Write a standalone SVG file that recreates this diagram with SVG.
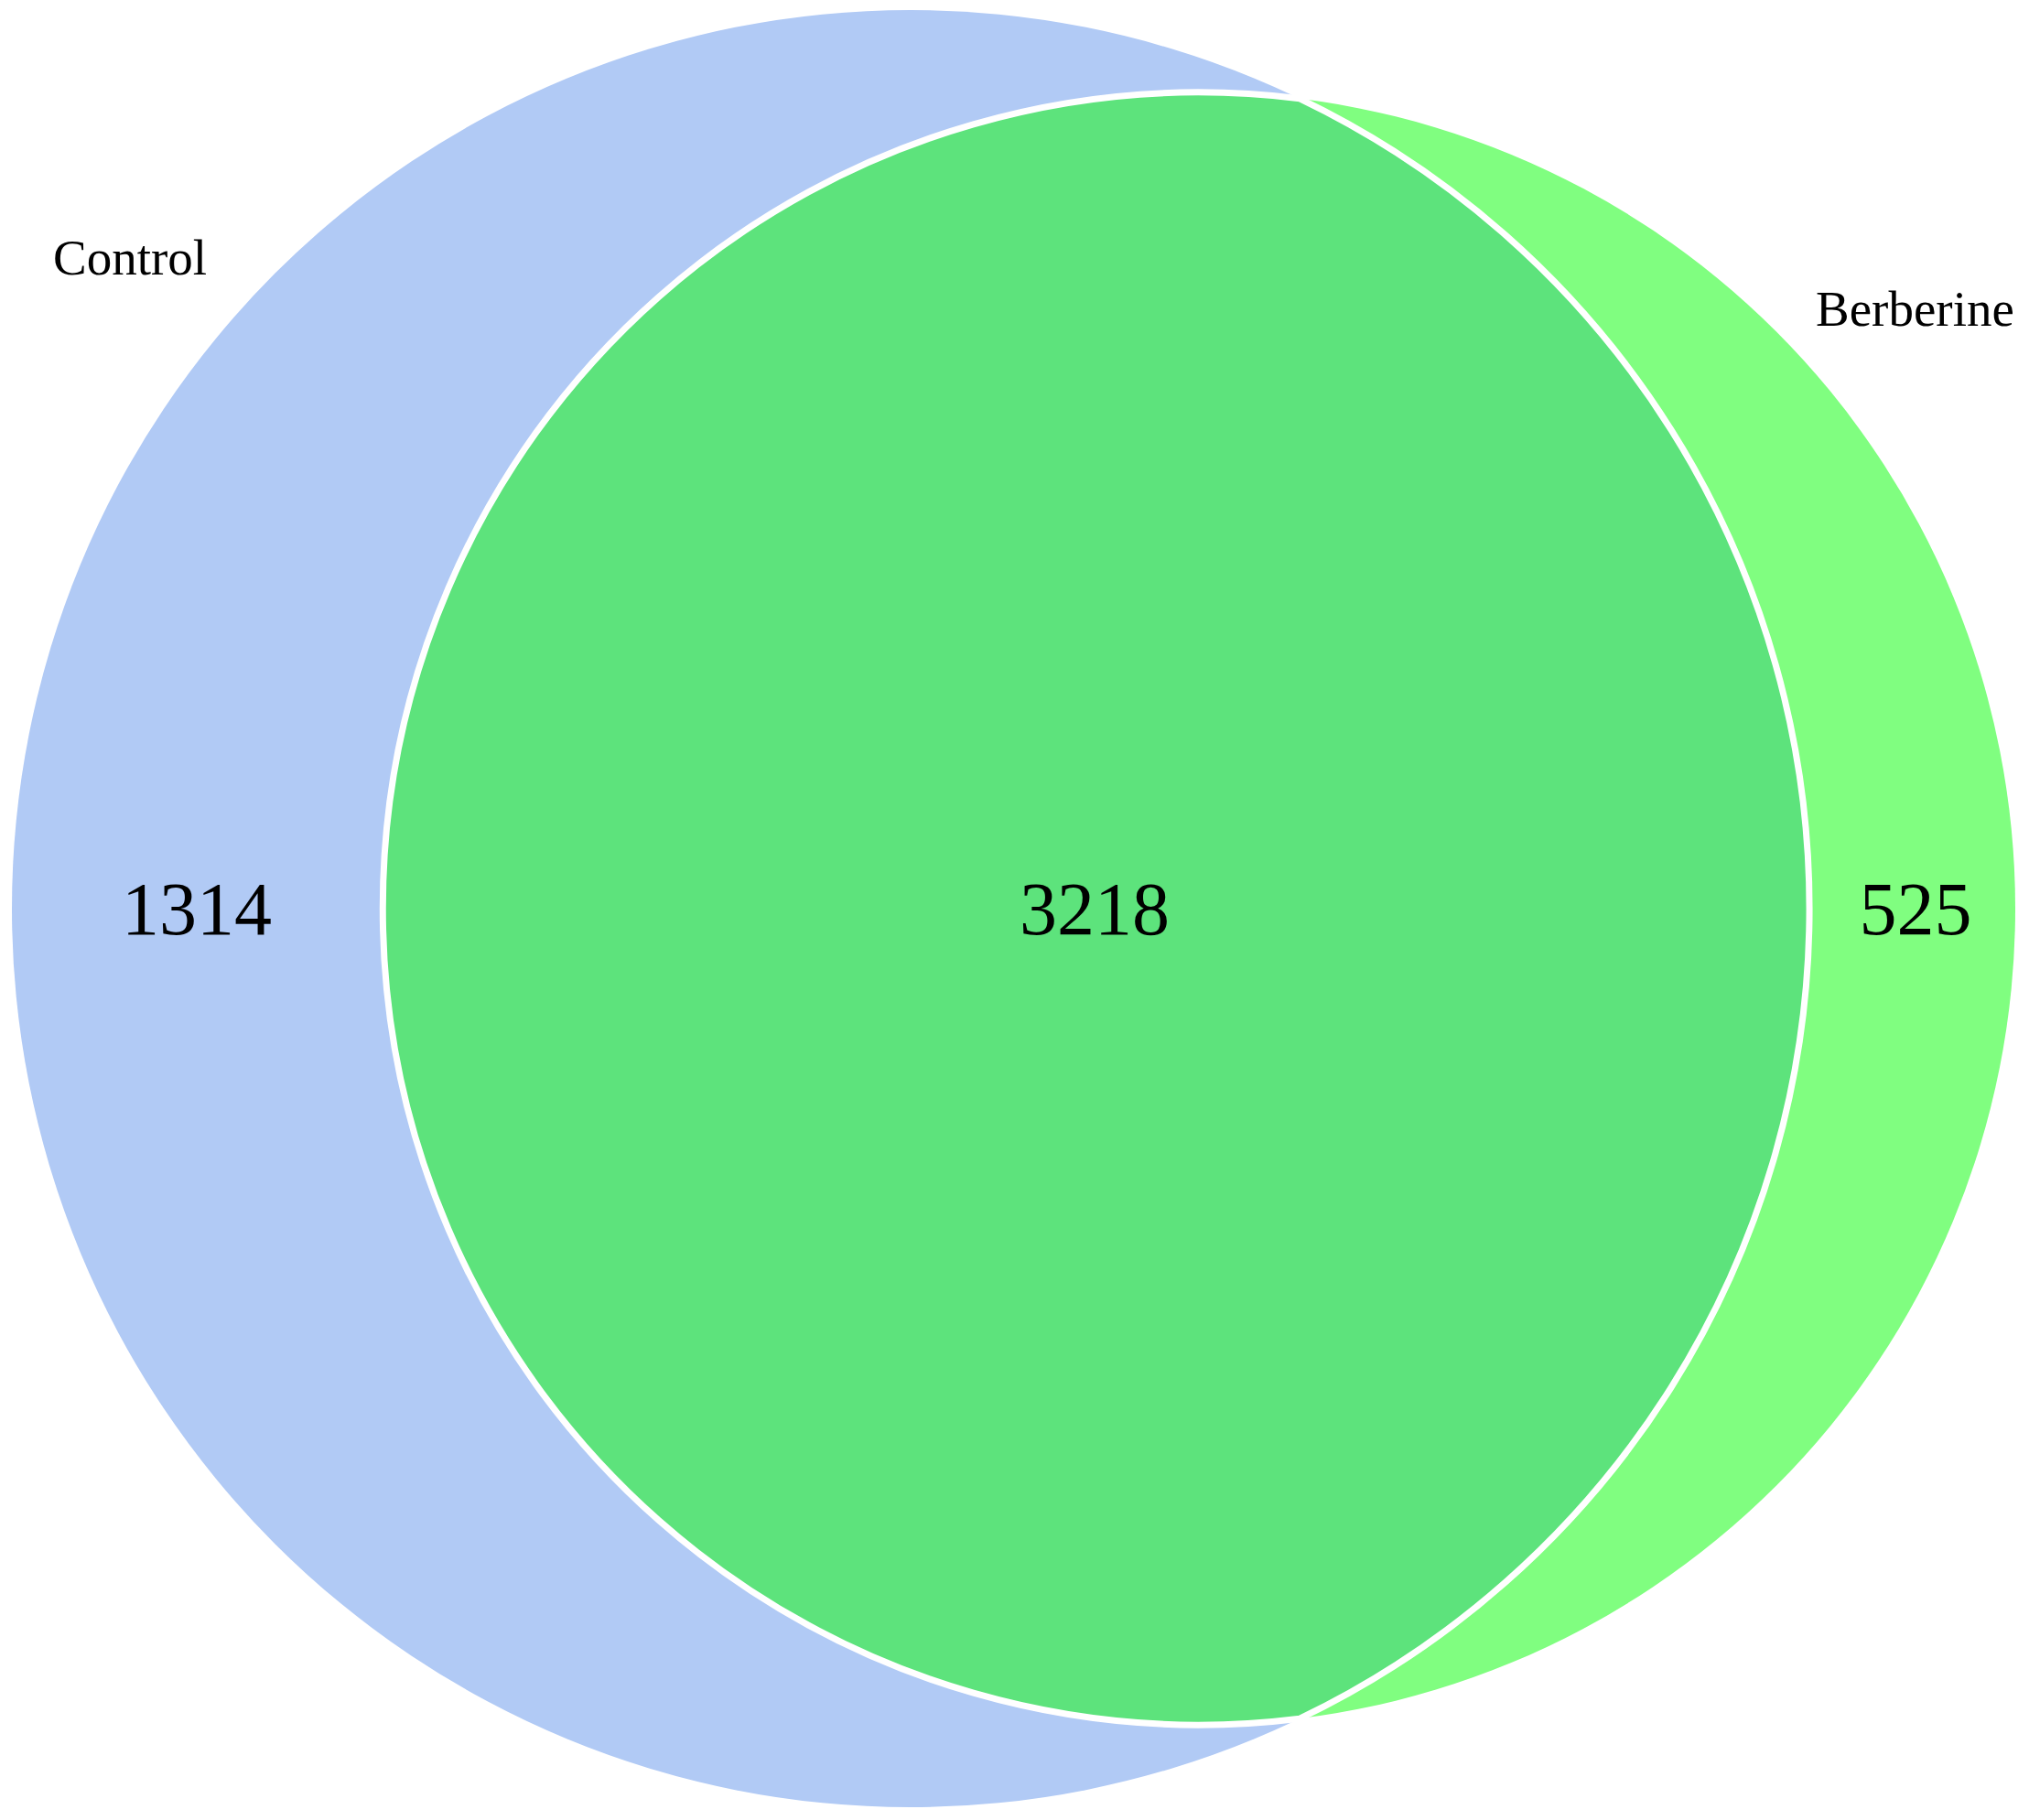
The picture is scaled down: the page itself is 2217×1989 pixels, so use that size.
<svg xmlns="http://www.w3.org/2000/svg" width="2217" height="1989" viewBox="0 0 2217 1989">
<style>
.lbl{font-family:"Liberation Serif","Times New Roman",serif;fill:#000}
.name{font-size:55px}
.num{font-size:82px;text-anchor:middle}
</style>
<rect x="0" y="0" width="2217" height="1989" fill="#fff"/>
<g id="control">
<circle cx="995" cy="993" r="982" fill="#B1CAF5"/>
<text class="lbl name" x="58" y="300">Control</text>
<text class="lbl num" x="215" y="1021">1314</text>
</g>
<g id="berberine">
<circle cx="1310" cy="993" r="892" fill="#80FE80"/>
<text class="lbl name" x="1984" y="356">Berberine</text>
<text class="lbl num" x="2093" y="1021">525</text>
</g>
<g id="overlap">
<path d="M1420.2,107.8 A892,892 0 1 0 1420.2,1878.2 A982,982 0 0 0 1420.2,107.8 Z" fill="#5DE37C" stroke="#fff" stroke-width="7"/>
<text class="lbl num" x="1196" y="1021">3218</text>
</g>
</svg>
